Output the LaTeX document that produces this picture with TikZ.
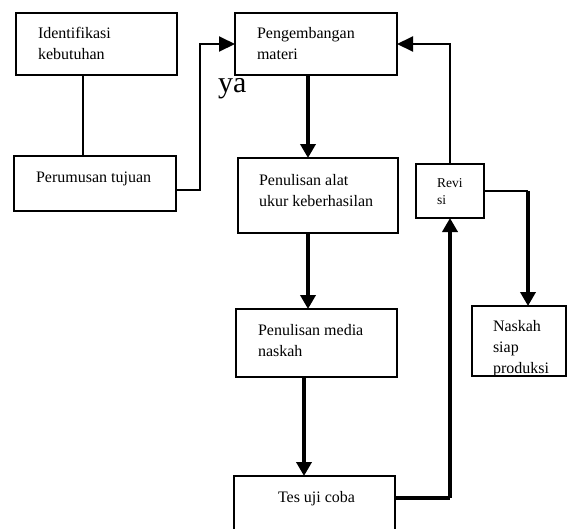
\documentclass[tikz,border=0pt]{standalone}
\usepackage{fontspec}
\setmainfont{Liberation Serif}
\usetikzlibrary{arrows.meta}
\tikzset{
  box/.style={draw, line width=2pt, rectangle, inner sep=0pt, outer sep=0pt},
  txt/.style={anchor=base west, inner sep=0pt, outer sep=0pt, font=\fontsize{16}{21}\selectfont},
  smalltxt/.style={anchor=base west, inner sep=0pt, outer sep=0pt, font=\fontsize{13.5}{17}\selectfont},
  thinline/.style={line width=2pt},
  thinarr/.style={line width=2pt, -{Triangle[length=16pt,width=15pt]}},
  thickline/.style={line width=3.5pt},
  thickarr/.style={line width=3.5pt, -{Triangle[length=14pt,width=15pt]}},
}
\newcommand{\lines}[1]{\begin{tabular}[t]{@{}l@{}}#1\end{tabular}}
\begin{document}
\begin{tikzpicture}[x=1pt,y=-1pt]
\useasboundingbox (0,0) rectangle (567,528);
\clip (0,0) rectangle (567,528);
\fill[white] (0,0) rectangle (567,528);

% boxes
\node[box, minimum width=161pt, minimum height=62pt] (idk) at (96.5,44) {};
\node[box, minimum width=162pt, minimum height=55pt] (per) at (95,183.5) {};
\node[box, minimum width=162pt, minimum height=62pt] (peng) at (316,44) {};
\node[box, minimum width=160pt, minimum height=75pt] (alat) at (318,195.5) {};
\node[box, minimum width=68pt, minimum height=54pt] (rev) at (450,191) {};
\node[box, minimum width=161pt, minimum height=68pt] (media) at (316.5,343) {};
\node[box, minimum width=94pt, minimum height=70pt] (nas) at (519,341) {};
\node[box, minimum width=161pt, minimum height=59pt] (tes) at (314.5,505.5) {};

% texts
\node[txt] (tidk) at ([shift={(22,25)}]idk.north west) {\lines{Identifikasi\\kebutuhan}};
\node[txt] (tper) at ([shift={(22,26)}]per.north west) {Perumusan tujuan};
\node[txt] (tpeng) at ([shift={(22,25)}]peng.north west) {\lines{Pengembangan\\materi}};
\node[txt] (talat) at ([shift={(21,27)}]alat.north west) {\lines{Penulisan alat\\ukur keberhasilan}};
\node[smalltxt] (trev) at ([shift={(21,23)}]rev.north west) {\lines{Revi\\si}};
\node[txt] (tmedia) at ([shift={(22,26)}]media.north west) {\lines{Penulisan media\\naskah}};
\node[txt] (tnas) at ([shift={(21,25)}]nas.north west) {\lines{Naskah\\siap\\produksi}};
\node[txt] (ttes) at ([shift={(44,26)}]tes.north west) {Tes uji coba};
\node[anchor=base west, inner sep=0pt, font=\fontsize{30}{30}\selectfont] (ya) at (218,92) {ya};

% helper coordinates
\coordinate (c1) at (83,0);
\coordinate (c2) at (308,0);
\coordinate (c3) at (304,0);
\coordinate (j1) at (200,190);
\coordinate (j2) at (528,191);
\coordinate (j3) at (450,498);

% connectors
\draw[thinline] (idk.south -| c1) -- (per.north -| c1);
\draw[thinarr] (per.east |- j1) -- (j1) |- (peng.west);
\draw[thickarr] (peng.south -| c2) -- (alat.north -| c2);
\draw[thickarr] (alat.south -| c2) -- (media.north -| c2);
\draw[thickarr] (media.south -| c3) -- (tes.north -| c3);
\draw[thinarr] (rev.north) |- (peng.east);
\draw[thinline] (rev.east |- j2) -- (j2);
\draw[thickarr] (j2) -- (nas.north -| j2);
\draw[thickline] (tes.east |- j3) -- (j3);
\draw[thickarr] (j3) -- (rev.south);
\end{tikzpicture}
\end{document}
